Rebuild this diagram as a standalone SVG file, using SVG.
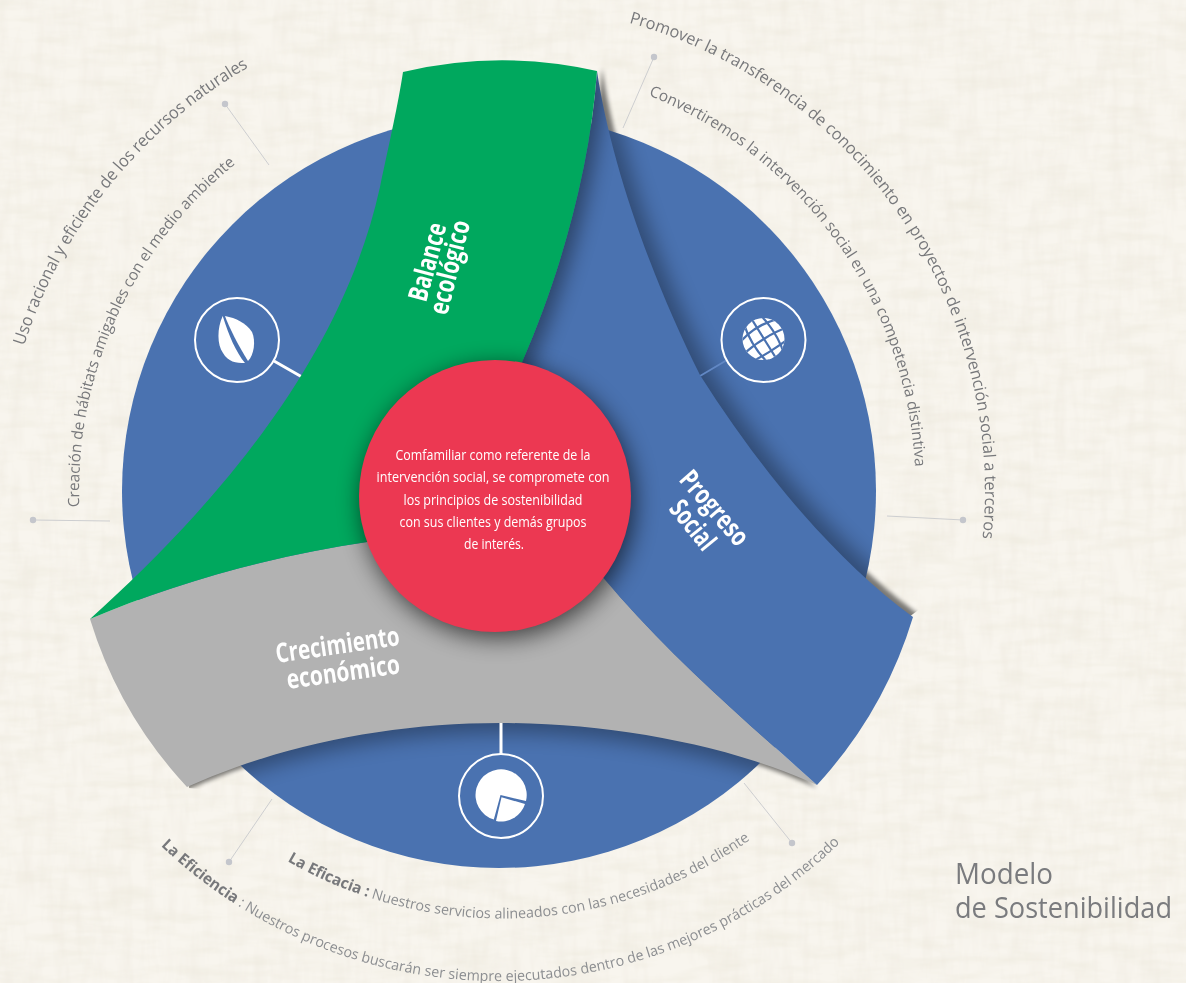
<svg xmlns="http://www.w3.org/2000/svg" width="1186" height="983" viewBox="0 0 1186 983">
<style>
.arc{font-family:"Open Sans","Liberation Sans",sans-serif;fill:#77787b}
.low{fill:#8c8e91}
.b{font-weight:700;fill:#77787b;font-size:15.500px}
.lbl{font-family:"Open Sans","Liberation Sans",sans-serif;font-weight:700;fill:#fff;font-size:27px}
.ctr{font-family:"Open Sans","Liberation Sans",sans-serif;fill:#fff;font-size:14px;text-anchor:middle}
.ttl{font-family:"Open Sans","Liberation Sans",sans-serif;fill:#7a7b7e;font-size:30px}
.thin{stroke:#cdced0;stroke-width:1;fill:none}
.dot{fill:#c4c6cc}
.ring{fill:none;stroke:#fff;stroke-width:2}
.blue{fill:#4a72b0}
</style>
<defs>
<filter id="tex" x="0" y="0" width="100%" height="100%"><feTurbulence type="fractalNoise" baseFrequency=".02 .09" numOctaves="3" seed="4"/><feColorMatrix values="0 0 0 0 .82 0 0 0 0 .79 0 0 0 0 .68 .9 0 0 0 -.36"/></filter>
<filter id="tex2" x="0" y="0" width="100%" height="100%"><feTurbulence type="fractalNoise" baseFrequency=".09 .02" numOctaves="3" seed="11"/><feColorMatrix values="0 0 0 0 .84 0 0 0 0 .80 0 0 0 0 .72 .8 0 0 0 -.32"/></filter>
<filter id="b2" x="-20%" y="-20%" width="140%" height="140%"><feGaussianBlur stdDeviation="2"/></filter>
<filter id="b10" x="-20%" y="-20%" width="140%" height="140%"><feGaussianBlur stdDeviation="10"/></filter>
<filter id="b12" x="-30%" y="-30%" width="160%" height="160%"><feGaussianBlur stdDeviation="12"/></filter>
<path id="band" d="M597,71C610,160 650,275 700,375C760,470 835,560 913,617A433,433 0 0 1 817,785C750,725 680,665 620,597L585,557L500,400L523,360C560,275 590,170 597,71Z"/>
<path id="gray" d="M90,619C170,585 270,556 367,542L500,450L620,597C680,665 750,725 817,785C730,745 610,723 500,723C390,723 280,745 187,787A431,431 0 0 1 90,619Z"/>
<path id="green" d="M90,619C200,520 340,370 380,187C390,140 398,105 403,72A431,431 0 0 1 597,71C590,170 560,275 523,360L500,420L367,542C270,556 170,585 90,619Z"/>
<clipPath id="cDisc"><circle cx="499" cy="491" r="377"/></clipPath>
<clipPath id="cBand"><use href="#band"/></clipPath>
<clipPath id="cGlobe"><circle cx="763.5" cy="339" r="21"/></clipPath>
<clipPath id="cOutB"><path d="M590,60H680V230L925,605L905,620L780,550L660,380L600,150Z"/></clipPath>
<clipPath id="cOutG"><path d="M189,788L190,770L500,700L817,770L820,800L500,820Z"/></clipPath>
<path id="t1" d="M24,346A492,492 0 0 1 268,56.6"/>
<path id="t2" d="M79.4,507A420,420 0 0 1 258,147"/>
<path id="t3" d="M629,22.7A486,486 0 0 1 977.6,575"/>
<path id="t4" d="M648.5,95.3A423,423 0 0 1 915,512"/>
<path id="t5" d="M160.9,845.8A490,490 0 0 0 863,819"/>
<path id="t6" d="M287.3,861A430,430 0 0 0 775.4,820.4"/>
</defs>
<rect width="1186" height="983" fill="#f8f5ee"/>
<rect width="1186" height="983" filter="url(#tex)"/>
<rect width="1186" height="983" filter="url(#tex2)"/>

<g id="cast-outside" opacity=".5">
<g clip-path="url(#cOutB)"><use href="#band" transform="translate(5,-3)" filter="url(#b2)"/></g>
<g clip-path="url(#cOutG)"><use href="#gray" transform="translate(0,3)" filter="url(#b2)"/></g>
</g>
<circle id="disc" class="blue" cx="499" cy="491" r="377"/>
<g id="cast-disc" clip-path="url(#cDisc)" opacity=".33">
<use href="#band" transform="translate(9,-8)" filter="url(#b10)"/>
<use href="#gray" transform="translate(0,10)" filter="url(#b10)"/>
</g>

<g id="connectors">
<path class="thin" d="M225,104L269,165M33,520L110,521M654,57L623,128M963,520L887,516M229,862L272,799M792,843L744,783"/>
<g class="dot"><circle cx="225" cy="104" r="3.2"/><circle cx="33" cy="520" r="3.2"/><circle cx="654" cy="57" r="3.2"/><circle cx="963" cy="520" r="3.2"/><circle cx="229" cy="862" r="3.2"/><circle cx="792" cy="843" r="3.2"/></g>
<path d="M274,361L302,377M501,722V754" stroke="#fff" stroke-width="3" fill="none"/>
<path d="M700,376L727,360" stroke="#6288c4" stroke-width="2" fill="none"/>
</g>

<g id="node-ecologico-icon">
<circle class="ring" cx="237" cy="340" r="42"/>
<path fill="#fff" d="M222.700,316C217,328 217,345 223,353C228,362 236,363 245,363C236,352 229,336 222.700,316Z"/>
<path fill="#fff" d="M225,316C229,327 238,345 248,361C254,355 256,341 252,332C246,323 236,318 225,316Z"/>
</g>
<g id="node-social-icon">
<circle class="ring" cx="763.500" cy="340" r="42"/>
<circle fill="#fff" cx="763.500" cy="339" r="21"/>
<g clip-path="url(#cGlobe)"><g transform="rotate(-32 763.5 339)" fill="none" stroke="#4a72b0" stroke-width="2.200">
<path d="M740,330Q763.500,322 787,330M740,341Q763.500,337 787,341M740,352Q763.500,354 787,352"/>
<path d="M755,315Q749,339 755,363M764,315V363M773,315Q779,339 773,363"/>
</g></g>
</g>
<g id="node-economico-icon">
<circle class="ring" cx="501" cy="796" r="42"/>
<path fill="#fff" d="M526,801A25.600,25.600 0 1 0 493.800,819.500L500.500,795Z"/>
<path fill="#fff" d="M501.500,797.300L525,804A25,25 0 0 1 496,821Z"/>
</g>

<g id="node-crecimiento">
<use href="#gray" fill="#b2b2b2"/>
<text class="lbl" transform="translate(277,663) rotate(-8.300)" textLength="125" lengthAdjust="spacingAndGlyphs">Crecimiento</text>
<text class="lbl" transform="translate(288,689) rotate(-8)" textLength="114" lengthAdjust="spacingAndGlyphs">económico</text>
</g>
<g id="node-progreso">
<use href="#band" class="blue"/>
<g clip-path="url(#cBand)"><use href="#green" transform="translate(8,6)" filter="url(#b10)" opacity=".4"/></g>
<text class="lbl" transform="translate(678,480) rotate(49)" textLength="90" lengthAdjust="spacingAndGlyphs">Progreso</text>
<text class="lbl" transform="translate(668,509) rotate(51)" textLength="56" lengthAdjust="spacingAndGlyphs">Social</text>
</g>
<g id="node-balance">
<use href="#green" fill="#00a85e"/>
<text class="lbl" transform="translate(426,303) rotate(-75)" textLength="80" lengthAdjust="spacingAndGlyphs">Balance</text>
<text class="lbl" transform="translate(447,316) rotate(-76)" textLength="96" lengthAdjust="spacingAndGlyphs">ecológico</text>
</g>
<g id="node-centro">
<circle cx="498" cy="502" r="136" filter="url(#b12)" opacity=".65"/>
<circle cx="495" cy="496" r="136" fill="#ec3852"/>
<text class="ctr" x="493" y="460" textLength="195" lengthAdjust="spacingAndGlyphs">Comfamiliar como referente de la</text>
<text class="ctr" x="493" y="482" textLength="233" lengthAdjust="spacingAndGlyphs">intervención social, se compromete con</text>
<text class="ctr" x="493" y="505" textLength="179" lengthAdjust="spacingAndGlyphs">los principios de sostenibilidad</text>
<text class="ctr" x="493" y="527" textLength="187" lengthAdjust="spacingAndGlyphs">con sus clientes y demás grupos</text>
<text class="ctr" x="494" y="549" textLength="60" lengthAdjust="spacingAndGlyphs">de interés.</text>
</g>

<g id="arc-labels">
<text class="arc" font-size="17"><textPath href="#t1" textLength="366" lengthAdjust="spacingAndGlyphs">Uso racional y eficiente de los recursos naturales</textPath></text>
<text class="arc" font-size="15.500"><textPath href="#t2" textLength="391" lengthAdjust="spacingAndGlyphs">Creación de hábitats amigables con el medio ambiente</textPath></text>
<text class="arc" font-size="16.500"><textPath href="#t3" textLength="679" lengthAdjust="spacingAndGlyphs">Promover la transferencia de conocimiento en proyectos de intervención social a terceros</textPath></text>
<text class="arc" font-size="15.500"><textPath href="#t4" textLength="483" lengthAdjust="spacingAndGlyphs">Convertiremos la intervención social en una competencia distintiva</textPath></text>
<text class="arc low" font-size="14.500"><textPath href="#t5" textLength="750" lengthAdjust="spacingAndGlyphs"><tspan class="b">La Eficiencia</tspan> : Nuestros procesos buscarán ser siempre ejecutados dentro de las mejores prácticas del mercado</textPath></text>
<text class="arc low" font-size="14.500"><textPath href="#t6" textLength="489" lengthAdjust="spacingAndGlyphs"><tspan class="b">La Eficacia :</tspan> Nuestros servicios alineados con las necesidades del cliente</textPath></text>
</g>
<g id="title">
<text class="ttl" x="955" y="884" textLength="98" lengthAdjust="spacingAndGlyphs">Modelo</text>
<text class="ttl" x="955" y="918" textLength="217" lengthAdjust="spacingAndGlyphs">de Sostenibilidad</text>
</g>
</svg>
